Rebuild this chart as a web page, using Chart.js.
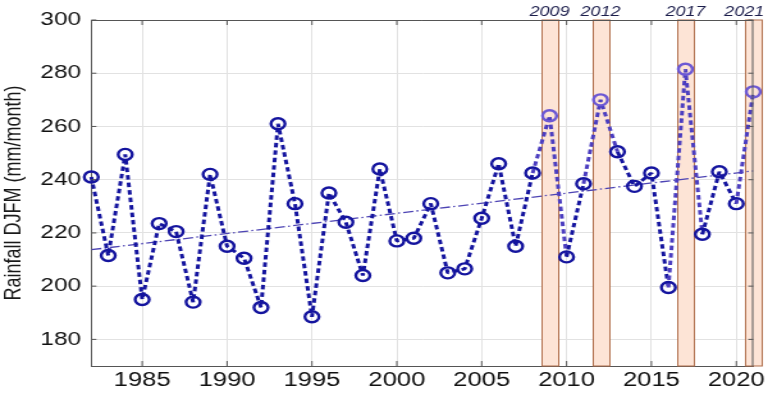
<!DOCTYPE html>
<html>
<head>
<meta charset="utf-8">
<title>Rainfall DJFM</title>
<script src="https://cdn.jsdelivr.net/npm/chart.js@4.4.0/dist/chart.umd.min.js"></script>
<style>
    html, body { margin: 0; padding: 0; background: #fff; }
    #rainChart { display: block; }
</style>
</head>
<body>
<!-- the source figure is stretched sideways, so the canvas is drawn narrower and widened by an inline style -->
<canvas id="rainChart" width="600" height="394" style="width:768px;height:394px"></canvas>
<script>
const years = [1982, 1983, 1984, 1985, 1986, 1987, 1988, 1989, 1990, 1991,
               1992, 1993, 1994, 1995, 1996, 1997, 1998, 1999, 2000, 2001,
               2002, 2003, 2004, 2005, 2006, 2007, 2008, 2009, 2010, 2011,
               2012, 2013, 2014, 2015, 2016, 2017, 2018, 2019, 2020, 2021];
const rainfall = [241, 211.5, 249.5, 195, 223.5, 220.5, 194, 242, 215, 210.5,
                  192, 261, 231, 188.5, 235, 224, 204, 244, 217, 218,
                  231, 205, 206.5, 225.5, 246, 215, 242.5, 264, 211, 238.5,
                  270, 250.5, 237.5, 242.5, 199.5, 281.5, 219.5, 243, 231, 273];
const trendYears = [1982, 2021];
const trendValues = [213.7, 243.3];
const highlightYears = [2009, 2012, 2017, 2021];
const xTicks = [1985, 1990, 1995, 2000, 2005, 2010, 2015, 2020];
const yTicks = [180, 200, 220, 240, 260, 280, 300];

const FONT = "'Liberation Sans', Arial, Helvetica, sans-serif";
const BLUE = '#14149e';
const PURPLE = '#6c58d4';
const FRAME = '#555555';

const isHighlight = i => highlightYears.includes(years[i]);

// peach boxes behind the data, frame + inward ticks + year labels on top
const highlightPlugin = {
    id: 'highlightYears',
    beforeDatasetsDraw(chart) {
        const { ctx, chartArea, scales: { x } } = chart;
        ctx.save();
        highlightYears.forEach(yr => {
            const l = Math.round(x.getPixelForValue(yr - 0.5)) + 0.5;
            const r = Math.round(x.getPixelForValue(yr + 0.5)) + 0.5;
            ctx.fillStyle = '#fde4d6';
            ctx.fillRect(l, chartArea.top, r - l, chartArea.bottom - chartArea.top);
            ctx.strokeStyle = '#b06f4c';
            ctx.lineWidth = 1;
            ctx.strokeRect(l, chartArea.top, r - l, chartArea.bottom - chartArea.top);
        });
        ctx.restore();
    },
    afterDraw(chart) {
        const { ctx, chartArea: a, scales: { x, y } } = chart;
        ctx.save();
        ctx.strokeStyle = FRAME;
        ctx.lineWidth = 1;
        ctx.beginPath();
        ctx.moveTo(a.left, a.top + 0.5);
        ctx.lineTo(a.right, a.top + 0.5);
        ctx.moveTo(a.right - 0.5, a.top);
        ctx.lineTo(a.right - 0.5, a.bottom);
        // inward tick marks, matlab style
        x.ticks.forEach(t => {
            const px = x.getPixelForValue(t.value);
            ctx.moveTo(px, a.top); ctx.lineTo(px, a.top + 5);
            ctx.moveTo(px, a.bottom); ctx.lineTo(px, a.bottom - 5);
        });
        y.ticks.forEach(t => {
            const py = y.getPixelForValue(t.value);
            ctx.moveTo(a.left, py); ctx.lineTo(a.left + 4, py);
            ctx.moveTo(a.right, py); ctx.lineTo(a.right - 4, py);
        });
        ctx.stroke();

        ctx.font = 'italic 14px ' + FONT;
        ctx.fillStyle = '#1c1e4c';
        ctx.textAlign = 'center';
        ctx.textBaseline = 'alphabetic';
        highlightYears.forEach(yr => {
            const label = String(yr);
            const w = ctx.measureText(label).width;
            const cx = Math.min(x.getPixelForValue(yr), chart.width - 3 - w / 2);
            ctx.fillText(label, cx, a.top - 4);
        });
        ctx.restore();
    }
};

const ctx = document.getElementById('rainChart');
new Chart(ctx, {
    type: 'line',
    data: {
        datasets: [{
            label: 'Rainfall DJFM',
            data: years.map((yr, i) => ({ x: yr, y: rainfall[i] })),
            borderColor: BLUE,
            borderWidth: 3,
            borderDash: [4.5, 3],
            borderJoinStyle: 'bevel',
            pointRadius: 5.5,
            pointBorderWidth: 2.4,
            pointBackgroundColor: 'rgba(0,0,0,0)',
            pointBorderColor: c => isHighlight(c.dataIndex) ? PURPLE : BLUE,
            segment: {
                borderColor: c => (isHighlight(c.p0DataIndex) || isHighlight(c.p1DataIndex)) ? '#4b3dc0' : undefined
            },
            tension: 0,
            clip: 10,
            order: 0
        }, {
            label: 'Trend',
            data: trendYears.map((yr, i) => ({ x: yr, y: trendValues[i] })),
            borderColor: '#4d44b4',
            borderWidth: 1.3,
            borderDash: [8, 2.5, 1.5, 2.5],
            pointRadius: 0,
            order: 1
        }]
    },
    options: {
        responsive: false,
        animation: false,
        devicePixelRatio: 1,
        layout: {
            padding: { top: 20, right: 11.5, left: 0, bottom: 0 }
        },
        plugins: {
            legend: { display: false },
            tooltip: { enabled: false }
        },
        scales: {
            x: {
                type: 'linear',
                min: 1982,
                max: 2021,
                afterBuildTicks: scale => { scale.ticks = xTicks.map(v => ({ value: v })); },
                grid: { color: '#e2e2e2', drawTicks: false },
                border: { color: FRAME, width: 1 },
                ticks: {
                    font: { family: FONT, size: 20 },
                    color: '#111',
                    padding: 2,
                    maxRotation: 0,
                    autoSkip: false,
                    callback: v => String(v)
                }
            },
            y: {
                min: 170,
                max: 300,
                afterBuildTicks: scale => { scale.ticks = yTicks.map(v => ({ value: v })); },
                grid: { color: '#e2e2e2', drawTicks: false },
                border: { color: FRAME, width: 1 },
                ticks: {
                    font: { family: FONT, size: 19 },
                    color: '#111',
                    padding: 8,
                    autoSkip: false,
                    callback: v => String(v)
                },
                title: {
                    display: true,
                    text: 'Rainfall DJFM (mm/month)',
                    font: { family: FONT, size: 18 },
                    color: '#1a1a1a',
                    padding: { top: 0, bottom: 2 }
                }
            }
        }
    },
    plugins: [highlightPlugin]
});
</script>
</body>
</html>
